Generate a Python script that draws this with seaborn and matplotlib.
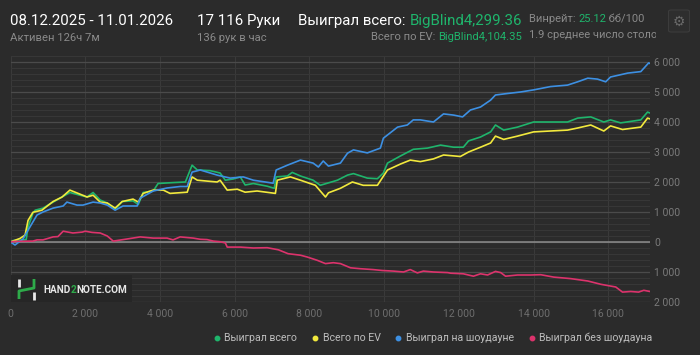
import numpy as np
import pandas as pd
import matplotlib.pyplot as plt
import seaborn as sns
from matplotlib.lines import Line2D
from matplotlib.patches import Rectangle, FancyBboxPatch
from matplotlib.ticker import MultipleLocator, FuncFormatter

# Данные (руки, big blinds)
total_x = [0, 70, 250, 420, 470, 600, 660, 870, 1140, 1380, 1590, 1860, 2050, 2210, 2400, 2590,
           2800, 2990, 3280, 3420, 3550, 3820, 3950, 4350, 4680, 4860, 5000, 5340, 5610, 5750,
           5960, 6150, 6280, 6500, 6870, 7060, 7110, 7410, 7540, 7760, 8100, 8290, 8480, 8750,
           9020, 9180, 9550, 9820, 9980, 10090, 10440, 10780, 11160, 11510, 11860, 12120, 12260,
           12580, 12850, 12980, 13200, 13570, 14000, 14450, 14910, 15180, 15530, 15880, 16060,
           16330, 16870, 17050, 17116]
total_y = [0, 50, 60, 80, 500, 960, 1060, 1130, 1330, 1500, 1650, 1560, 1500, 1650, 1400, 1300,
           1090, 1350, 1370, 1250, 1650, 1700, 1950, 1980, 2000, 2560, 2400, 2380, 2300, 2060,
           2100, 2170, 1900, 1950, 1860, 1790, 2170, 2200, 2320, 2200, 2060, 1890, 1960, 2060,
           2230, 2280, 2130, 2110, 2300, 2630, 2870, 3090, 3130, 3230, 3160, 3160, 3370,
           3500, 3670, 3900, 3730, 3830, 4000, 4000, 4000, 4130, 4170, 4000, 4070,
           3970, 4070, 4330, 4299]

ev_x = [0, 255, 390, 470, 600, 840, 1140, 1380, 1590, 1810, 2050, 2210, 2400, 2590, 2800, 2990,
        3280, 3420, 3550, 3820, 4090, 4270, 4730, 4860, 5000, 5530, 5610, 5800, 6070, 6280, 6600,
        7090, 7140, 7490, 7760, 8160, 8430, 8510, 8830, 9150, 9440, 9820, 10090, 10440, 10700,
        10970, 11320, 11590, 12040, 12260, 12580, 12850, 12980, 13200, 13570, 14000, 14450,
        14910, 15180, 15530, 15880, 16060, 16380, 16870, 17050, 17116]
ev_y = [0, 120, 230, 720, 990, 1060, 1350, 1500, 1730, 1620, 1500, 1560, 1330, 1300, 1130, 1350,
        1430, 1330, 1620, 1730, 1730, 1620, 1660, 2170, 2060, 2000, 2060, 1730, 1760, 1660, 1700,
        1620, 2060, 2170, 2060, 1890, 1500, 1640, 1790, 2000, 1890, 1890, 2400, 2600, 2730,
        2680, 2770, 2900, 2850, 3000, 3160, 3300, 3530, 3420, 3530, 3670, 3700,
        3730, 3800, 3900, 3700, 3870, 3750, 3830, 4130, 4104]

sd_x = [0, 120, 335, 520, 710, 870, 1140, 1410, 1510, 1780, 1940, 2210, 2400, 2590, 2800, 3010,
        3390, 3470, 3820, 4190, 4540, 4730, 4860, 5080, 5530, 5880, 6230, 6500, 7030, 7110, 7410,
        7760, 8100, 8240, 8370, 8510, 8830, 9020, 9180, 9550, 9900, 9980, 10360, 10620, 10780,
        10970, 11320, 11590, 11860, 12100, 12310, 12580, 12850, 12980, 13300, 13650, 14000,
        14450, 14910, 15180, 15450, 15710, 15930, 16060, 16520, 16870, 17080, 17116]
sd_y = [0, -100, 100, 500, 900, 1000, 1130, 1200, 1330, 1230, 1230, 1330, 1300, 1230, 1060, 1200,
        1200, 1460, 1700, 1800, 1850, 1850, 2330, 2400, 2230, 2130, 2170, 2060, 1960, 2400, 2560,
        2730, 2630, 2500, 2700, 2530, 2630, 2960, 3070, 2970, 3130, 3460, 3830, 3900, 4070,
        4070, 4000, 4270, 4230, 4170, 4400, 4500, 4730, 4900, 4950, 5000, 5070,
        5180, 5230, 5340, 5460, 5430, 5340, 5500, 5630, 5680, 5970, 5950]

nsd_x = [0, 100, 600, 710, 870, 1140, 1270, 1410, 1670, 1920, 2000, 2180, 2400, 2590, 2750, 3120,
         3470, 3820, 4190, 4350, 4540, 4890, 5080, 5260, 5430, 5610, 5750, 5800, 6150, 6500, 6870,
         7170, 7430, 7760, 7940, 8210, 8430, 8640, 8830, 9100, 9360, 9710, 9950, 10250, 10520,
         10700, 10890, 11050, 11320, 11700, 11780, 12120, 12390, 12580, 12770, 12980, 13120,
         13250, 13570, 13920, 14190, 14540, 14990, 15450, 15800, 16200, 16380, 16600, 16810,
         16950, 17116]
nsd_y = [0, 20, 30, 70, 70, 170, 180, 360, 300, 330, 360, 320, 300, 200, 30, 100,
         170, 130, 130, 70, 170, 130, 90, 80, 30, 10, -30, -170, -170, -200, -190,
         -260, -390, -440, -500, -610, -720, -690, -720, -860, -890, -920, -950, -970, -1000,
         -920, -1030, -970, -1000, -1020, -1040, -1060, -1140, -1060, -1100, -980, -1020,
         -1140, -1100, -1100, -1090, -1170, -1220, -1300, -1410, -1500, -1670, -1650, -1670,
         -1610, -1650]

series = ['Выиграл всего', 'Всего по EV', 'Выиграл на шоудауне', 'Выиграл без шоудауна']
colors = ['#1fb56c', '#f2e93d', '#3d90e3', '#dc336c']

df = pd.concat([
    pd.DataFrame({'hands': total_x, 'bb': total_y, 'series': series[0]}),
    pd.DataFrame({'hands': ev_x, 'bb': ev_y, 'series': series[1]}),
    pd.DataFrame({'hands': sd_x, 'bb': sd_y, 'series': series[2]}),
    pd.DataFrame({'hands': nsd_x, 'bb': nsd_y, 'series': series[3]}),
])

BG = '#2b2b2b'
BIG = 10.8
SMALL = 8.1
sns.set_theme(style='dark')
plt.rcParams['font.family'] = ['Roboto', 'DejaVu Sans']

fig = plt.figure(figsize=(7, 3.55), dpi=100, facecolor=BG)
ax = fig.add_axes([10.5 / 700, 1 - 302 / 355, 639.5 / 700, 246 / 355])
ax.set_facecolor(BG)

sns.lineplot(data=df, x='hands', y='bb', hue='series', hue_order=series,
             palette=dict(zip(series, colors)), estimator=None, sort=False,
             linewidth=1.2, legend=False, ax=ax, zorder=3)

ax.set_xlim(0, 17116)
ax.set_ylim(-2000, 6200)
ax.xaxis.set_major_locator(MultipleLocator(2000))
ax.yaxis.set_major_locator(MultipleLocator(1000))
ax.yaxis.set_minor_locator(MultipleLocator(200))
fmt = FuncFormatter(lambda v, p: f'{abs(int(round(v))):,}'.replace(',', ' '))
ax.xaxis.set_major_formatter(fmt)
ax.yaxis.set_major_formatter(fmt)
ax.yaxis.tick_right()
ax.grid(True, which='major', axis='y', color='#4b4b4b', lw=0.9)
ax.grid(True, which='minor', axis='y', color='#373737', lw=0.8)
ax.grid(True, which='major', axis='x', color='#3a3a3a', lw=0.8)
ax.axhline(0, color='#8c8c8c', lw=1.1, zorder=2)
for s in ax.spines.values():
    s.set_visible(False)
ax.tick_params(axis='both', which='both', length=0, labelsize=7.5)
ax.tick_params(axis='y', colors='#7a7a7a', pad=3)
ax.tick_params(axis='x', colors='#6e6e6e', pad=5)
ax.set_xlabel('')
ax.set_ylabel('')

# водяной знак
ax.add_patch(Rectangle((10 / 700, 1 - 302 / 355), 122 / 700, 27 / 355, transform=fig.transFigure,
                       facecolor='#262626', edgecolor='none', zorder=2.5))
px = lambda x, y: (x / 700, 1 - y / 355)
for xs, ys, c in [([19, 19], [279, 287], '#e8e8e8'),
                  ([19, 19, 34, 34], [299, 291, 288, 279], '#2eab4a'),
                  ([34, 34], [292, 300], '#e8e8e8')]:
    ax.add_line(Line2D([x / 700 for x in xs], [1 - y / 355 for y in ys], transform=fig.transFigure,
                       color=c, lw=2, solid_capstyle='butt', zorder=2.6))
t = fig.text(*px(43, 293), 'HAND', color='#e6e6e6', fontsize=7.2, fontweight='bold')
t = ax.annotate('2', xy=(1, 0), xycoords=t, va='bottom', color='#2eab4a', fontsize=7.2,
                fontweight='bold', annotation_clip=False)
ax.annotate('NOTE.COM', xy=(1, 0), xycoords=t, va='bottom', color='#e6e6e6', fontsize=7.2,
            fontweight='bold', annotation_clip=False)

# шапка
fig.text(*px(10, 25), '08.12.2025 - 11.01.2026', color='white', fontsize=BIG)
fig.text(*px(10, 41), 'Активен 126ч 7м', color='#8a8a8a', fontsize=SMALL)
fig.text(*px(197, 25), '17 116 Руки', color='white', fontsize=BIG)
fig.text(*px(197, 41), '136 рук в час', color='#8a8a8a', fontsize=SMALL)

g = fig.text(*px(522, 25), 'BigBlind4,299.36', color='#1fb56c', fontsize=BIG, ha='right')
ax.annotate('Выиграл всего: ', xy=(0, 0), xycoords=g, ha='right', va='bottom',
            color='white', fontsize=BIG, annotation_clip=False)
g = fig.text(*px(522, 40), 'BigBlind4,104.35', color='#1fb56c', fontsize=SMALL, ha='right')
ax.annotate('Всего по EV: ', xy=(0, 0), xycoords=g, ha='right', va='bottom',
            color='#8a8a8a', fontsize=SMALL, annotation_clip=False)

t = fig.text(*px(529, 22.5), 'Винрейт: ', color='#8a8a8a', fontsize=8)
t = ax.annotate('25.12', xy=(1, 0), xycoords=t, va='bottom', color='#1fb56c', fontsize=8,
                annotation_clip=False)
ax.annotate(' бб/100', xy=(1, 0), xycoords=t, va='bottom', color='#8a8a8a', fontsize=8,
            annotation_clip=False)
t = fig.text(*px(529, 38.5), '1.9 среднее число столов', color='#8a8a8a', fontsize=8)
t.set_clip_path(Rectangle((0, 0), 656 / 700, 1, transform=fig.transFigure))

fig.patches.append(FancyBboxPatch(px(668.5, 32), 21 / 700, 22 / 355, boxstyle='round,pad=0,rounding_size=0.004',
                                  transform=fig.transFigure, facecolor='#2e2e2e', edgecolor='#3c3c3c', lw=0.8))
fig.text(*px(679, 21.5), '⚙', color='#6a6a6a', fontsize=10, ha='center', va='center', family='DejaVu Sans')

# легенда
handles = [Line2D([], [], marker='o', ls='none', color=c, markersize=3.2) for c in colors]
fig.legend(handles, series, loc='center', bbox_to_anchor=(433.5 / 700, 1 - 338 / 355), ncol=4,
           frameon=False, fontsize=7.6, labelcolor='#bdbdbd', handlelength=0.5, handletextpad=0.45,
           columnspacing=1.45)

fig.savefig('out.png', dpi=100, facecolor=BG)
